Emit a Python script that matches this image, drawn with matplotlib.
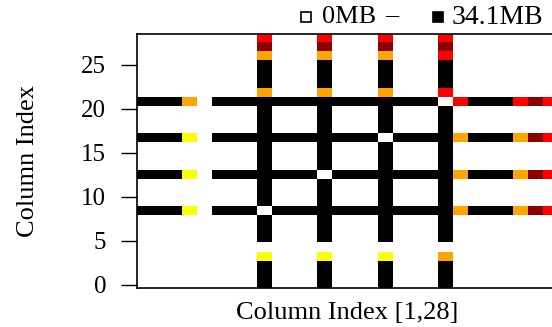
import numpy as np
import matplotlib
matplotlib.use("Agg")
import matplotlib.pyplot as plt
from matplotlib.colors import LinearSegmentedColormap

plt.rcParams['font.family'] = ['Liberation Serif', 'DejaVu Sans']

# ---- data -------------------------------------------------------------
n_cols = 28
band_idx = [8, 12, 16, 20]          # rows/cols that carry traffic (0-based)

# colour levels (white -> yellow -> orange -> red -> darkred -> black)
level_colors = ["white", "yellow", "orange", "red", "darkred", "black"]
level_mb     = [0.0, 6.8, 13.6, 20.5, 27.3, 34.1]

# level code along each band (index = other column)
prof_8  = [5,5,5,1,0,5,5,5, 0,5,5,5,5,5,5,5,5,5,5,5,5, 2,5,5,5,2,4,3]
prof_12 = [5,5,5,1,0,5,5,5, 5,5,5,5,0,5,5,5,5,5,5,5,5, 2,5,5,5,2,4,3]
prof_16 = [5,5,5,1,0,5,5,5, 5,5,5,5,5,5,5,5,0,5,5,5,5, 2,5,5,5,2,4,3]
prof_20 = [5,5,5,2,0,5,5,5, 5,5,5,5,5,5,5,5,5,5,5,5,0, 3,5,5,5,3,4,3]
profiles = [prof_8, prof_12, prof_16, prof_20]

y_ticks = [0, 5, 10, 15, 20, 25]

# build the matrix (symmetric)
codes = np.zeros((n_cols, n_cols), dtype=int)
for b, p in zip(band_idx, profiles):
    codes[b, :] = p
    codes[:, b] = p
mat = np.array(level_mb)[codes]

# ---- plot -------------------------------------------------------------
vmax = level_mb[-1]
cmap = LinearSegmentedColormap.from_list(
    "heat", list(zip([v / vmax for v in level_mb], level_colors)))

fig = plt.figure(figsize=(5.52, 3.27), dpi=100)
ax = fig.add_axes([0.2487, 0.1183, 0.7609, 0.7777])

ylo, yhi = -0.41, 28.49
ax.imshow(mat, origin="lower", cmap=cmap, vmin=0, vmax=vmax,
          interpolation="nearest", aspect="auto",
          extent=(0.5, n_cols + 0.5, ylo, yhi))
ax.set_xlim(0.5, n_cols + 0.5)
ax.set_ylim(ylo, yhi)

ax.set_xticks([])
ax.set_yticks(y_ticks)
ax.tick_params(axis="y", direction="out", length=11.5, width=1.0,
               pad=11, labelsize=18)
for s in ax.spines.values():
    s.set_linewidth(1.2)

ax.set_xlabel("Column Index [1,28]", fontsize=19)
ax.xaxis.set_label_coords(0.5, -0.055)
ax.set_ylabel("Column Index", fontsize=19)
ax.yaxis.set_label_coords(-0.233, 0.5)

# legend strip on top: white square = 0MB, black square = max
ly = 0.948
for xf, fc in [(306 / 552, "white"), (438 / 552, "black")]:
    fig.lines.append(plt.Line2D([xf], [ly], marker="s", markersize=7,
                                markerfacecolor=fc, markeredgecolor="black",
                                markeredgewidth=1.2, transform=fig.transFigure))
fig.text(322 / 552, ly, "0MB", fontsize=19, ha="left", va="center")
fig.text(392 / 552, ly + 0.007, "\u2013", fontsize=19, ha="center", va="center")
fig.text(452 / 552, ly, "34.1MB", fontsize=20, ha="left", va="center")

fig.savefig("out.png", dpi=100)
